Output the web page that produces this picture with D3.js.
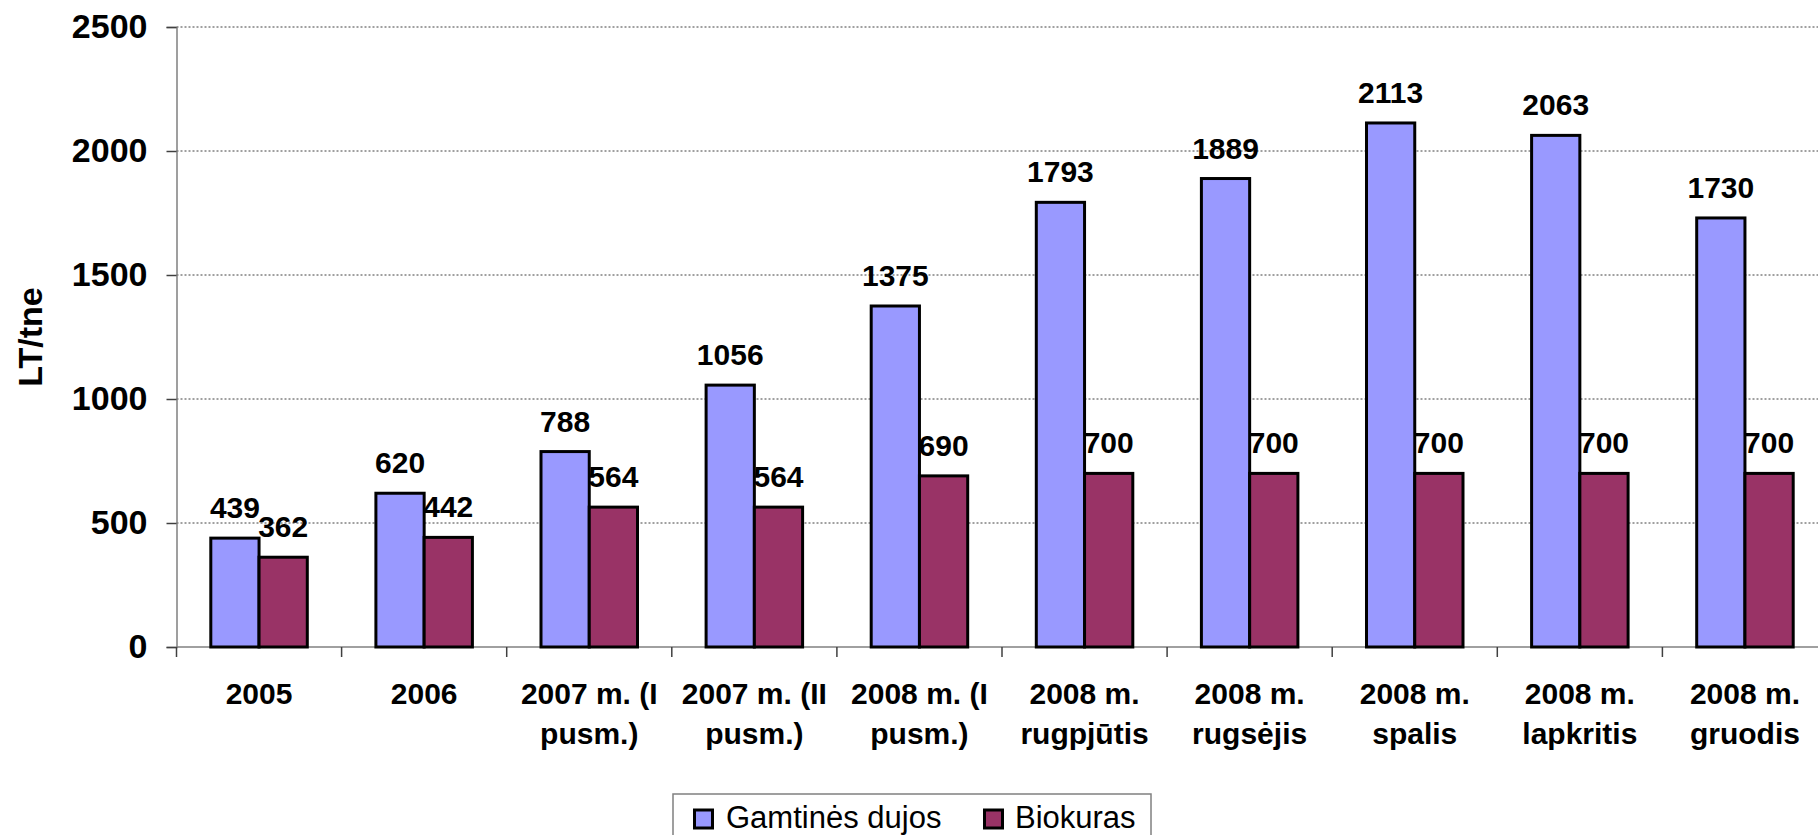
<!DOCTYPE html>
<html>
<head>
<meta charset="utf-8">
<script src="https://cdn.jsdelivr.net/npm/d3@7"></script>
<style>
  html, body { margin: 0; padding: 0; background: #fff; overflow: hidden; }
  svg { display: block; font-family: "Liberation Sans", Arial, sans-serif; }
</style>
</head>
<body>
<svg id="chart" width="1818" height="835"></svg>
<script>
const categories = ["2005", "2006", "2007 m. (I pusm.)", "2007 m. (II pusm.)", "2008 m. (I pusm.)",
  "2008 m. rugpjūtis", "2008 m. rugsėjis", "2008 m. spalis", "2008 m. lapkritis", "2008 m. gruodis"];
const seriesNames = ["Gamtinės dujos", "Biokuras"];
const gasValues = [439, 620, 788, 1056, 1375, 1793, 1889, 2113, 2063, 1730];
const bioValues = [362, 442, 564, 564, 690, 700, 700, 700, 700, 700];
const yTicks = [0, 500, 1000, 1500, 2000, 2500];
const colors = ["#9999FF", "#993366"];
const yTitle = "LT/tne";

(function () {
const svg = d3.select("#chart");
const pL = 176.5, pR = 1827.5, pT = 27, pB = 647;

const x = d3.scaleBand().domain(categories).range([pL, pR]).paddingInner(0.4155).paddingOuter(0.20775);
const xs = d3.scaleBand().domain(seriesNames).range([0, x.bandwidth()]).padding(0);
const y = d3.scaleLinear().domain([0, 2500]).range([pB, pT]);

const rows = categories.map((c, i) => ({ cat: c, vals: [gasValues[i], bioValues[i]] }));

// gridlines
svg.append("g").selectAll("line").data(yTicks.filter(t => t > 0)).join("line")
  .attr("x1", pL).attr("x2", pR)
  .attr("y1", d => y(d)).attr("y2", d => y(d))
  .attr("stroke", "#404040").attr("stroke-width", 1).attr("stroke-dasharray", "2,2");

// y axis
const yAxis = svg.append("g").attr("transform", `translate(${pL},0)`)
  .call(d3.axisLeft(y).tickValues(yTicks).tickSize(10).tickPadding(19).tickFormat(d3.format("d")));
yAxis.select(".domain").attr("stroke", "#808080").attr("stroke-width", 1.5);
yAxis.selectAll(".tick line").attr("stroke", "#404040").attr("stroke-width", 1.5);
yAxis.selectAll(".tick text").attr("font-size", 34).attr("font-weight", "bold").attr("fill", "#000")
  .attr("font-family", "'Liberation Sans', Arial, sans-serif");

// x axis line + ticks at band boundaries
svg.append("line").attr("x1", pL).attr("x2", pR).attr("y1", pB).attr("y2", pB)
  .attr("stroke", "#808080").attr("stroke-width", 1.5);
svg.append("g").selectAll("line").data(d3.range(categories.length + 1)).join("line")
  .attr("x1", i => x.range()[0] + i * x.step()).attr("x2", i => x.range()[0] + i * x.step())
  .attr("y1", pB).attr("y2", pB + 10)
  .attr("stroke", "#404040").attr("stroke-width", 1.5);

// category labels
const catG = svg.append("g").selectAll("text").data(categories).join("text")
  .attr("x", d => x(d) + x.bandwidth() / 2)
  .attr("y", 703.5)
  .attr("text-anchor", "middle").attr("font-size", 30).attr("font-weight", "bold").attr("fill", "#000");
catG.each(function(d) {
  const idx = d.lastIndexOf(" ");
  const lines = idx > 0 ? [d.slice(0, idx), d.slice(idx + 1)] : [d];
  const t = d3.select(this);
  lines.forEach((ln, k) => {
    t.append("tspan").attr("x", x(d) + x.bandwidth() / 2).attr("dy", k === 0 ? 0 : 40).text(ln);
  });
});

// value labels (drawn before bars so bars overlap them as in the original)
const groups = svg.append("g").selectAll("g").data(rows).join("g")
  .attr("transform", d => `translate(${x(d.cat)},0)`);
groups.selectAll("text").data(d => d.vals.map((v, k) => ({ v, s: seriesNames[k], k }))).join("text")
  .attr("x", d => xs(d.s) + xs.bandwidth() / 2)
  .attr("y", d => y(d.v) - 20)
  .attr("text-anchor", "middle").attr("font-size", 30).attr("font-weight", "bold").attr("fill", "#000")
  .text(d => d.v);

// bars
const barG = svg.append("g").selectAll("g").data(rows).join("g")
  .attr("transform", d => `translate(${x(d.cat)},0)`);
barG.selectAll("rect").data(d => d.vals.map((v, k) => ({ v, s: seriesNames[k], k }))).join("rect")
  .attr("x", d => xs(d.s))
  .attr("y", d => y(d.v))
  .attr("width", xs.bandwidth())
  .attr("height", d => y(0) - y(d.v))
  .attr("fill", d => colors[d.k])
  .attr("stroke", "#000").attr("stroke-width", 3);

// y title
svg.append("text")
  .attr("transform", `translate(42,${(pT + pB) / 2}) rotate(-90)`)
  .attr("text-anchor", "middle").attr("font-size", 34).attr("font-weight", "bold").attr("fill", "#000")
  .text(yTitle);

// legend
const lg = svg.append("g");
lg.append("rect").attr("x", 673).attr("y", 794).attr("width", 478).attr("height", 70)
  .attr("fill", "#fff").attr("stroke", "#808080").attr("stroke-width", 1.5);
const legendItems = [{ name: seriesNames[0], sx: 693, tx: 726 }, { name: seriesNames[1], sx: 983, tx: 1015 }];
legendItems.forEach((it, k) => {
  lg.append("rect").attr("x", it.sx + 1.5).attr("y", 810).attr("width", 18).attr("height", 18)
    .attr("fill", colors[k]).attr("stroke", "#000").attr("stroke-width", 3);
  lg.append("text").attr("x", it.tx).attr("y", 828).attr("font-size", 31).attr("fill", "#000").text(it.name);
});
})();
</script>
</body>
</html>
